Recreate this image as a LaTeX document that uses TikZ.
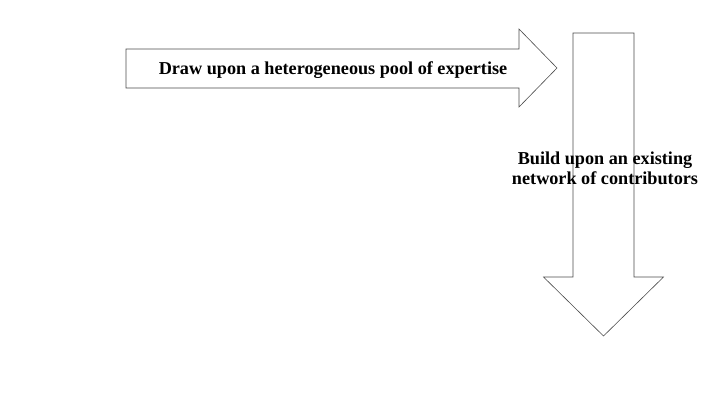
\documentclass[tikz,border=0pt]{standalone}
\usepackage{fontspec}
\setmainfont{Liberation Serif}
\usetikzlibrary{positioning}

\begin{document}
\begin{tikzpicture}[x=1pt, y=-1pt,
        every node/.style={font=\fontsize{18.2}{20}\selectfont\bfseries, align=center},
        arrowshape/.style={draw=black!70, line width=0.6pt, fill=white}]
      \useasboundingbox (0,0) rectangle (720,405);

      % Horizontal arrow
      \draw[arrowshape] (126,49) -- (519,49) -- (519,29) -- (557,68) -- (519,107) -- (519,88) -- (126,88) -- cycle;
      \node (pool) at (333,70) {Draw upon a heterogeneous pool of expertise};

      % Vertical arrow
      \draw[arrowshape] (573,33) -- (634,33) -- (634,277) -- (663.5,277) -- (603.5,336) -- (543.5,277) -- (573,277) -- cycle;
      \node (network) at (605,168) {Build upon an existing\\network of contributors};
    \end{tikzpicture}
\end{document}
